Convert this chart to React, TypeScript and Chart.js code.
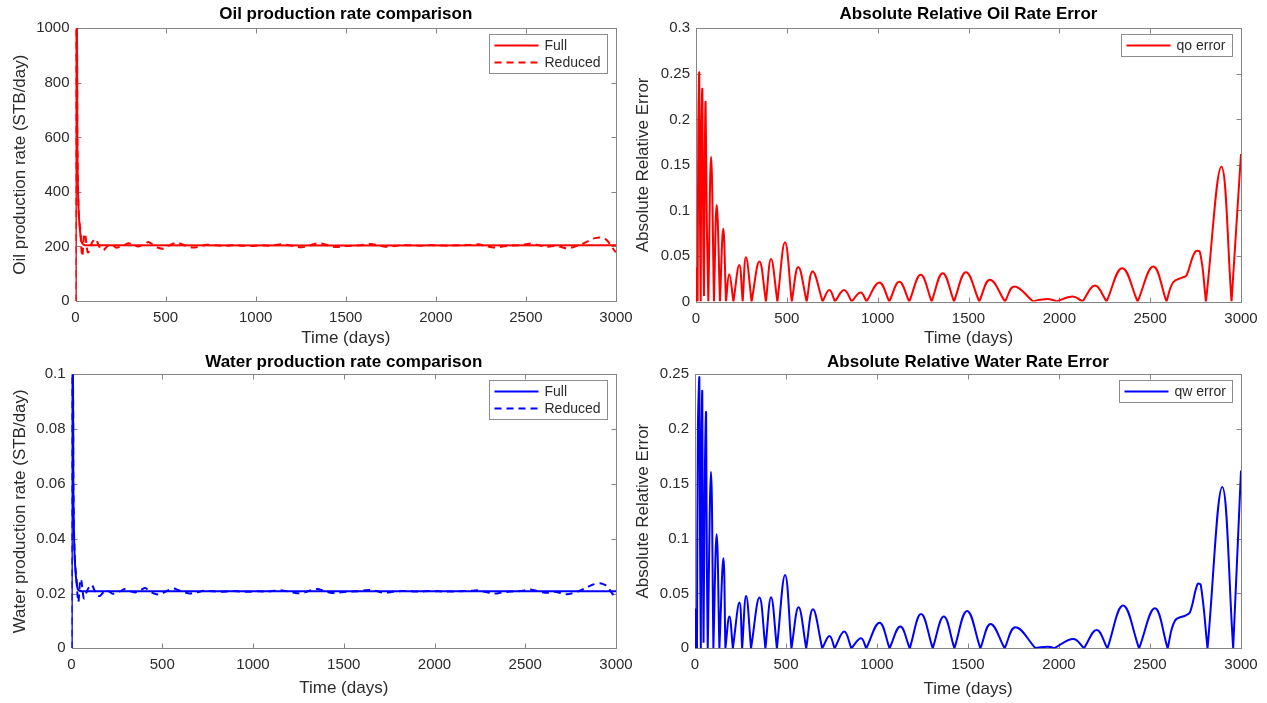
import { useEffect, useRef } from "react";
import { Chart, registerables } from "chart.js";

Chart.register(...registerables);

const FONT = '"Liberation Sans", Arial, Helvetica, sans-serif';
const TEXT = "#2b2b2b";
const AXIS = "#858585";
Chart.defaults.font.family = FONT;

type Pt = [number, number];

// ---------- tick values ----------
const timeTicks = [0, 500, 1000, 1500, 2000, 2500, 3000];
const oilRateTicks = [0, 200, 400, 600, 800, 1000];
const waterRateTicks = [0, 0.02, 0.04, 0.06, 0.08, 0.1];
const oilErrTicks = [0, 0.05, 0.1, 0.15, 0.2, 0.25, 0.3];
const waterErrTicks = [0, 0.05, 0.1, 0.15, 0.2, 0.25];

// ---------- oil production rate (STB/day) ----------
const oilFull: Pt[] = [
  [0, 0], [3, 1000], [8, 1000], [10, 600], [13, 430], [17, 335], [22, 280], [28, 240],
  [35, 215], [45, 207], [60, 204], [3000, 204],
];
const oilReduced: Pt[] = [
  [0, 0], [3, 1000], [8, 1000], [10, 620], [13, 440], [17, 340], [22, 290], [27, 260], [32, 200],
  [38, 163], [44, 215], [49, 248], [55, 240], [62, 200], [68, 178], [74, 180], [85, 205], [100, 222],
  [112, 228], [125, 210], [140, 190], [156, 187], [175, 200], [195, 207], [215, 200], [228, 195],
  [250, 200], [270, 205], [295, 212], [320, 205], [350, 200], [380, 208], [406, 216], [430, 205],
  [455, 196], [484, 192], [510, 200], [540, 210], [563, 214], [590, 208], [620, 201], [652, 196],
  [690, 200], [730, 206], [780, 204], [830, 202], [880, 205], [930, 203], [980, 202], [1030, 204],
  [1080, 203], [1120, 206], [1144, 208], [1180, 205], [1220, 200], [1254, 197], [1290, 201],
  [1320, 208], [1355, 212], [1390, 206], [1420, 200], [1455, 198], [1490, 201], [1533, 203],
  [1580, 204], [1634, 209], [1680, 205], [1710, 200], [1734, 199], [1770, 202], [1820, 205],
  [1870, 204], [1920, 203], [1970, 205], [2020, 204], [2070, 203], [2120, 204], [2170, 205],
  [2210, 206], [2236, 208], [2270, 203], [2310, 197], [2337, 196], [2370, 200], [2420, 203],
  [2470, 205], [2500, 208], [2526, 211], [2560, 206], [2600, 200], [2627, 199], [2660, 202],
  [2700, 197], [2728, 193], [2760, 197], [2800, 206], [2840, 218], [2870, 228], [2907, 233],
  [2930, 230], [2951, 222], [2975, 200], [2996, 181], [3000, 180],
];

// ---------- water production rate (STB/day) ----------
const waterFull: Pt[] = [
  [0, 0], [3, 0.1], [8, 0.1], [10, 0.06], [13, 0.044], [17, 0.034], [22, 0.028], [28, 0.024],
  [35, 0.0215], [45, 0.021], [60, 0.0208], [3000, 0.0208],
];
const waterReduced: Pt[] = [
  [0, 0], [3, 0.1], [8, 0.1], [10, 0.063], [13, 0.045], [17, 0.035], [22, 0.029], [27, 0.026],
  [32, 0.0205], [38, 0.0168], [44, 0.0218], [49, 0.0253], [55, 0.0245], [62, 0.0204], [68, 0.0182],
  [74, 0.0184], [85, 0.0209], [100, 0.0226], [112, 0.0232], [125, 0.0214], [140, 0.0194],
  [156, 0.0191], [175, 0.0204], [195, 0.0211], [215, 0.0204], [228, 0.0199], [250, 0.0204],
  [270, 0.0209], [295, 0.0216], [320, 0.0209], [350, 0.0204], [380, 0.0212], [406, 0.022],
  [430, 0.0209], [455, 0.02], [484, 0.0196], [510, 0.0204], [540, 0.0214], [563, 0.0218],
  [590, 0.0212], [620, 0.0205], [652, 0.02], [690, 0.0204], [730, 0.021], [780, 0.0208],
  [830, 0.0206], [880, 0.0209], [930, 0.0207], [980, 0.0206], [1030, 0.0208], [1080, 0.0207],
  [1120, 0.021], [1144, 0.0212], [1180, 0.0209], [1220, 0.0204], [1254, 0.0201], [1290, 0.0205],
  [1320, 0.0212], [1355, 0.0216], [1390, 0.021], [1420, 0.0204], [1455, 0.0202], [1490, 0.0205],
  [1533, 0.0207], [1580, 0.0208], [1634, 0.0213], [1680, 0.0209], [1710, 0.0204], [1734, 0.0203],
  [1770, 0.0206], [1820, 0.0209], [1870, 0.0208], [1920, 0.0207], [1970, 0.0209], [2020, 0.0208],
  [2070, 0.0207], [2120, 0.0208], [2170, 0.0209], [2210, 0.021], [2236, 0.0212], [2270, 0.0207],
  [2310, 0.0201], [2337, 0.02], [2370, 0.0204], [2420, 0.0207], [2470, 0.0209], [2500, 0.0212],
  [2526, 0.0215], [2560, 0.021], [2600, 0.0204], [2627, 0.0203], [2660, 0.0206], [2700, 0.0201],
  [2728, 0.0197], [2760, 0.0201], [2800, 0.021], [2840, 0.0222], [2870, 0.0232], [2907, 0.0237],
  [2930, 0.0234], [2951, 0.0226], [2975, 0.0204], [2996, 0.0185], [3000, 0.0184],
];

// ---------- absolute relative oil rate error (cusps listed twice) ----------
const oilError: Pt[] = [
  [0, 0], [2, 0.036], [5, 0.028], [9, 0], [9, 0], [13, 0.2], [18, 0.25], [22, 0.09], [26, 0], [26, 0],
  [30, 0.19], [35, 0.232], [40, 0.07], [44, 0.006], [44, 0.006], [49, 0.17], [53, 0.218], [60, 0.08],
  [68, 0], [68, 0], [83, 0.159], [99, 0], [99, 0], [114, 0.106], [132, 0], [132, 0], [150, 0.08],
  [165, 0], [165, 0], [183, 0.03], [206, 0], [206, 0], [238, 0.04], [257, 0], [257, 0], [275, 0.0485],
  [306, 0], [306, 0], [349, 0.044], [385, 0], [385, 0], [413, 0.0467], [448, 0], [448, 0], [490, 0.065],
  [527, 0], [527, 0], [563, 0.038], [609, 0], [609, 0], [642, 0.033], [697, 0], [697, 0], [734, 0.0125],
  [765, 0], [765, 0], [815, 0.0125], [857, 0], [857, 0], [906, 0.01], [939, 0], [939, 0], [1009, 0.021],
  [1064, 0], [1064, 0], [1119, 0.0216], [1174, 0], [1174, 0], [1237, 0.0293], [1297, 0], [1297, 0],
  [1358, 0.0311], [1420, 0], [1420, 0], [1486, 0.0322], [1559, 0], [1559, 0], [1618, 0.0238],
  [1701, 0], [1701, 0], [1752, 0.0165], [1856, 0], [1856, 0], [1893, 0.0018], [1948, 0.0026],
  [1985, 0], [1985, 0], [2073, 0.0055], [2128, 0], [2128, 0], [2196, 0.0176], [2260, 0], [2260, 0],
  [2346, 0.0366], [2431, 0], [2431, 0], [2517, 0.0385], [2590, 0], [2590, 0], [2627, 0.0212],
  [2682, 0.0267], [2700, 0.0286], [2746, 0.0542], [2774, 0.0542], [2807, 0], [2807, 0],
  [2892, 0.148], [2948, 0], [2948, 0], [3000, 0.162],
];

// ---------- absolute relative water rate error (cusps listed twice) ----------
const waterError: Pt[] = [
  [0, 0], [2, 0.035], [5, 0.028], [11, 0], [11, 0], [16, 0.2], [24, 0.247], [28, 0.09], [32, 0], [32, 0],
  [36, 0.19], [40, 0.233], [44, 0.07], [47, 0.005], [47, 0.005], [55, 0.17], [61, 0.214], [65, 0.08],
  [70, 0], [70, 0], [88, 0.161], [101, 0], [101, 0], [119, 0.104], [134, 0], [134, 0], [156, 0.082],
  [167, 0], [167, 0], [189, 0.029], [208, 0], [208, 0], [244, 0.0417], [259, 0], [259, 0], [281, 0.0477],
  [308, 0], [308, 0], [354, 0.0462], [387, 0], [387, 0], [418, 0.0465], [450, 0], [450, 0], [495, 0.0669],
  [530, 0], [530, 0], [569, 0.0374], [611, 0], [611, 0], [648, 0.0356], [699, 0], [699, 0], [739, 0.0113],
  [767, 0], [767, 0], [820, 0.0152], [859, 0], [859, 0], [912, 0.0091], [941, 0], [941, 0], [1014, 0.0234],
  [1069, 0], [1069, 0], [1128, 0.0198], [1180, 0], [1180, 0], [1242, 0.0313], [1306, 0], [1306, 0],
  [1367, 0.0289], [1425, 0], [1425, 0], [1495, 0.0341], [1568, 0], [1568, 0], [1624, 0.0222],
  [1701, 0], [1701, 0], [1761, 0.0192], [1871, 0], [1871, 0], [1899, 0.001], [1954, 0.0012],
  [1972, 0], [1972, 0], [2079, 0.0085], [2137, 0], [2137, 0], [2207, 0.0167], [2266, 0], [2266, 0],
  [2352, 0.0389], [2440, 0], [2440, 0], [2527, 0.0365], [2597, 0], [2597, 0], [2637, 0.0252],
  [2697, 0.0301], [2720, 0.033], [2761, 0.0584], [2779, 0.0578], [2816, 0], [2816, 0],
  [2897, 0.147], [2957, 0], [2957, 0], [3000, 0.162],
];

const RED = "#ff0000";
const BLUE = "#0000ff";
const DASH = [7, 5];

interface Series { label: string; data: Pt[]; color: string; dash: number[]; tension: number }
interface PanelSpec {
  x: number; y: number; w: number; h: number;
  area: { left: number; top: number; right: number; bottom: number };
  title: string; titlePadTop: number;
  yTitle: string; yTitlePad: number; xTitlePad: number;
  yTicks: number[];
  series: Series[];
}

const fmt = (v: number) => String(parseFloat(Number(v).toFixed(6)));

const framePlugin = {
  id: "matlabFrame",
  beforeDatasetsDraw(chart: any) {
    const { ctx, chartArea: a, scales } = chart;
    const L = Math.round(a.left) + 0.5, R = Math.round(a.right) + 0.5;
    const T = Math.round(a.top) + 0.5, B = Math.round(a.bottom) + 0.5;
    ctx.save();
    ctx.strokeStyle = AXIS;
    ctx.lineWidth = 1;
    ctx.beginPath();
    for (const t of scales.x.ticks) {
      const px = Math.round(scales.x.getPixelForValue(t.value)) + 0.5;
      ctx.moveTo(px, B); ctx.lineTo(px, B - 5);
      ctx.moveTo(px, T); ctx.lineTo(px, T + 5);
    }
    for (const t of scales.y.ticks) {
      const py = Math.round(scales.y.getPixelForValue(t.value)) + 0.5;
      ctx.moveTo(L, py); ctx.lineTo(L + 5, py);
      ctx.moveTo(R, py); ctx.lineTo(R - 5, py);
    }
    ctx.stroke();
    ctx.strokeRect(L, T, R - L, B - T);
    ctx.restore();
  },
};

const legendPlugin = {
  id: "boxLegend",
  afterDatasetsDraw(chart: any) {
    const { ctx, chartArea: a } = chart;
    const ds = chart.data.datasets;
    ctx.save();
    ctx.font = `14px ${FONT}`;
    const tw = Math.max(...ds.map((d: any) => ctx.measureText(d.label).width));
    const w = Math.round(55 + tw + 7);
    const h = 22 + 17 * (ds.length - 1);
    const x0 = Math.round(a.right - 9 - w) + 0.5;
    const y0 = Math.round(a.top + 6) + 0.5;
    ctx.fillStyle = "#ffffff";
    ctx.fillRect(x0, y0, w, h);
    ctx.strokeStyle = "#8c8c8c";
    ctx.lineWidth = 1;
    ctx.strokeRect(x0, y0, w, h);
    ds.forEach((d: any, i: number) => {
      const cy = y0 + 11 + 17 * i;
      ctx.strokeStyle = d.borderColor;
      ctx.lineWidth = 2;
      ctx.setLineDash(d.borderDash || []);
      ctx.beginPath();
      ctx.moveTo(x0 + 5, cy);
      ctx.lineTo(x0 + 49, cy);
      ctx.stroke();
      ctx.setLineDash([]);
      ctx.fillStyle = TEXT;
      ctx.textBaseline = "middle";
      ctx.textAlign = "left";
      ctx.fillText(d.label, x0 + 55, cy + 0.5);
    });
    ctx.restore();
  },
};

function makeConfig(p: PanelSpec): any {
  const yMin = p.yTicks[0];
  const yMax = p.yTicks[p.yTicks.length - 1];
  const titleLH = 17 * 1.2;
  return {
    type: "line",
    data: {
      datasets: p.series.map((s) => ({
        label: s.label,
        data: s.data.map(([x, y]) => ({ x, y })),
        borderColor: s.color,
        backgroundColor: s.color,
        borderWidth: 2,
        borderDash: s.dash,
        pointRadius: 0,
        pointHoverRadius: 0,
        tension: s.tension,
        fill: false,
      })),
    },
    options: {
      responsive: false,
      animation: false,
      events: [],
      layout: { padding: { left: 0, top: 0, right: p.w - p.area.right, bottom: 0 } },
      plugins: {
        legend: { display: false },
        tooltip: { enabled: false },
        title: {
          display: true,
          fullSize: false,
          text: p.title,
          color: "#000000",
          font: { family: FONT, size: 17, weight: "bold", lineHeight: 1.2 },
          padding: { top: p.titlePadTop, bottom: p.area.top - titleLH - p.titlePadTop },
        },
      },
      scales: {
        x: {
          type: "linear",
          min: 0,
          max: 3000,
          afterBuildTicks: (s: any) => { s.ticks = timeTicks.map((v) => ({ value: v })); },
          afterFit: (s: any) => { s.height = p.h - p.area.bottom; },
          grid: { display: false, drawTicks: false },
          border: { display: false },
          ticks: {
            color: TEXT, font: { family: FONT, size: 15 }, padding: 8,
            maxRotation: 0, autoSkip: false, callback: (v: any) => fmt(v),
          },
          title: {
            display: true, text: "Time (days)", color: TEXT,
            font: { family: FONT, size: 17, lineHeight: 1.2 },
            padding: { top: 0, bottom: p.xTitlePad },
          },
        },
        y: {
          type: "linear",
          min: yMin,
          max: yMax,
          afterBuildTicks: (s: any) => { s.ticks = p.yTicks.map((v) => ({ value: v })); },
          afterFit: (s: any) => { s.width = p.area.left; },
          grid: { display: false, drawTicks: false },
          border: { display: false },
          ticks: {
            color: TEXT, font: { family: FONT, size: 15 }, padding: 6,
            autoSkip: false, callback: (v: any) => fmt(v),
          },
          title: {
            display: true, text: p.yTitle, color: TEXT,
            font: { family: FONT, size: 17, lineHeight: 1.2 },
            padding: { top: p.yTitlePad, bottom: 0 },
          },
        },
      },
    },
    plugins: [framePlugin, legendPlugin],
  };
}

const panels: PanelSpec[] = [
  {
    x: 0, y: 0, w: 660, h: 351,
    area: { left: 75.5, top: 28.3, right: 616, bottom: 301 },
    title: "Oil production rate comparison", titlePadTop: 4,
    yTitle: "Oil production rate (STB/day)", yTitlePad: 9.8, xTitlePad: 2.8,
    yTicks: oilRateTicks,
    series: [
      { label: "Full", data: oilFull, color: RED, dash: [], tension: 0.3 },
      { label: "Reduced", data: oilReduced, color: RED, dash: DASH, tension: 0.3 },
    ],
  },
  {
    x: 633, y: 0, w: 634, h: 351,
    area: { left: 63, top: 28.3, right: 608, bottom: 301.5 },
    title: "Absolute Relative Oil Rate Error", titlePadTop: 4,
    yTitle: "Absolute Relative Error", yTitlePad: 0.6, xTitlePad: 2,
    yTicks: oilErrTicks,
    series: [{ label: "qo error", data: oilError, color: RED, dash: [], tension: 0.4 }],
  },
  {
    x: 0, y: 351, w: 660, h: 352,
    area: { left: 71.5, top: 23.3, right: 616, bottom: 297.3 },
    title: "Water production rate comparison", titlePadTop: 1.5,
    yTitle: "Water production rate (STB/day)", yTitlePad: 10.3, xTitlePad: 4.3,
    yTicks: waterRateTicks,
    series: [
      { label: "Full", data: waterFull, color: BLUE, dash: [], tension: 0.3 },
      { label: "Reduced", data: waterReduced, color: BLUE, dash: DASH, tension: 0.3 },
    ],
  },
  {
    x: 633, y: 351, w: 634, h: 352,
    area: { left: 62, top: 23, right: 608, bottom: 297.3 },
    title: "Absolute Relative Water Rate Error", titlePadTop: 1.2,
    yTitle: "Absolute Relative Error", yTitlePad: 0.6, xTitlePad: 3.5,
    yTicks: waterErrTicks,
    series: [{ label: "qw error", data: waterError, color: BLUE, dash: [], tension: 0.4 }],
  },
];

function Panel({ spec }: { spec: PanelSpec }) {
  const ref = useRef<HTMLCanvasElement>(null);
  useEffect(() => {
    if (!ref.current) return;
    const chart = new Chart(ref.current, makeConfig(spec));
    return () => chart.destroy();
  }, [spec]);
  return (
    <canvas
      ref={ref}
      width={spec.w}
      height={spec.h}
      style={{ position: "absolute", left: spec.x, top: spec.y, width: spec.w, height: spec.h }}
    />
  );
}

export default function App() {
  return (
    <div style={{ position: "absolute", left: 0, top: 0, width: 1267, height: 703, background: "#ffffff", overflow: "hidden" }}>
      {panels.map((p, i) => (
        <Panel key={i} spec={p} />
      ))}
    </div>
  );
}
